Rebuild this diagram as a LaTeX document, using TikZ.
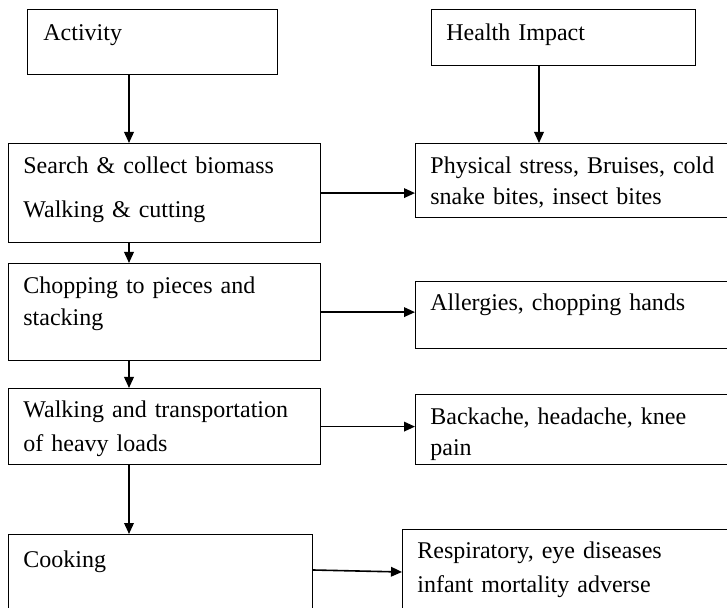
\documentclass[tikz,border=0pt]{standalone}
\usepackage{fontspec}
\setmainfont{Liberation Serif}
\usepackage{tikz}
\usetikzlibrary{arrows.meta,calc}
\tikzset{
  box/.style={draw, line width=0.6pt, anchor=north west, inner sep=0pt},
  txt/.style={anchor=base west, inner sep=0pt, text width=180pt, align=left,
              font=\fontsize{12pt}{16pt}\selectfont},
  arrow/.style={-{Triangle[length=5.5pt, width=4.8pt]}, line width=0.8pt},
}

\begin{document}
\begin{tikzpicture}[x=0.5pt, y=-0.5pt]
\useasboundingbox (0,0) rectangle (727,608);
\clip (0,0) rectangle (727,608);

% ================= activity column =================
\node[box, minimum width=125pt, minimum height=32.5pt] (act) at (27,9) {};
\node[txt] (act-t) at (43,41) {Activity};

\node[box, minimum width=156pt, minimum height=49.5pt] (srch) at (8,143) {};
\node[txt] (srch-t) at (23,174) {Search \& collect biomass\\[6pt] Walking \& cutting};

\node[box, minimum width=156pt, minimum height=48.5pt] (chop) at (8,263) {};
\node[txt] (chop-t) at (23,294) {Chopping to pieces and\\ stacking};

\node[box, minimum width=156pt, minimum height=38pt] (walk) at (8,388) {};
\node[txt] (walk-t) at (23,418) {Walking and transportation\\[1pt] of heavy loads};

\node[box, minimum width=152pt, minimum height=60pt] (cook) at (8,534) {};
\node[txt] (cook-t) at (23,567) {Cooking};

% ================= health impact column =================
\node[box, minimum width=132pt, minimum height=28pt] (hlth) at (431,9) {};
\node[txt] (hlth-t) at (446,41) {Health Impact};

\node[box, minimum width=172.5pt, minimum height=37pt] (phys) at (415,143) {};
\node[txt] (phys-t) at (430,174) {Physical stress, Bruises, cold\\[-0.5pt] snake bites, insect bites};

\node[box, minimum width=172.5pt, minimum height=33.5pt] (alrg) at (415,281) {};
\node[txt] (alrg-t) at (430,311) {Allergies, chopping hands};

\node[box, minimum width=172.5pt, minimum height=35pt] (back) at (415,394) {};
\node[txt] (back-t) at (430,424) {Backache, headache, knee\\[-0.5pt] pain};

\node[box, minimum width=170pt, minimum height=50pt] (resp) at (402,529) {};
\node[txt] (resp-t) at (417,558) {Respiratory, eye diseases\\[1pt] infant mortality adverse};

% ================= connectors =================
\coordinate (lx) at (129,0);
\coordinate (rx) at (539,0);

\draw[arrow] (act.south -| lx) -- (srch.north -| lx);
\draw[arrow] (srch.south -| lx) -- (chop.north -| lx);
\draw[arrow] (chop.south -| lx) -- (walk.north -| lx);
\draw[arrow] (walk.south -| lx) -- (cook.north -| lx);
\draw[arrow] (hlth.south -| rx) -- (phys.north -| rx);

\draw[arrow] (srch.east) -- (srch.east -| phys.west);
\draw[arrow] (chop.east) -- (chop.east -| alrg.west);
\draw[arrow] (walk.east) -- (walk.east -| back.west);
\draw[arrow] ($(cook.north east)+(0,36)$) -- ($(resp.north west)+(0,43)$);

\end{tikzpicture}
\end{document}
